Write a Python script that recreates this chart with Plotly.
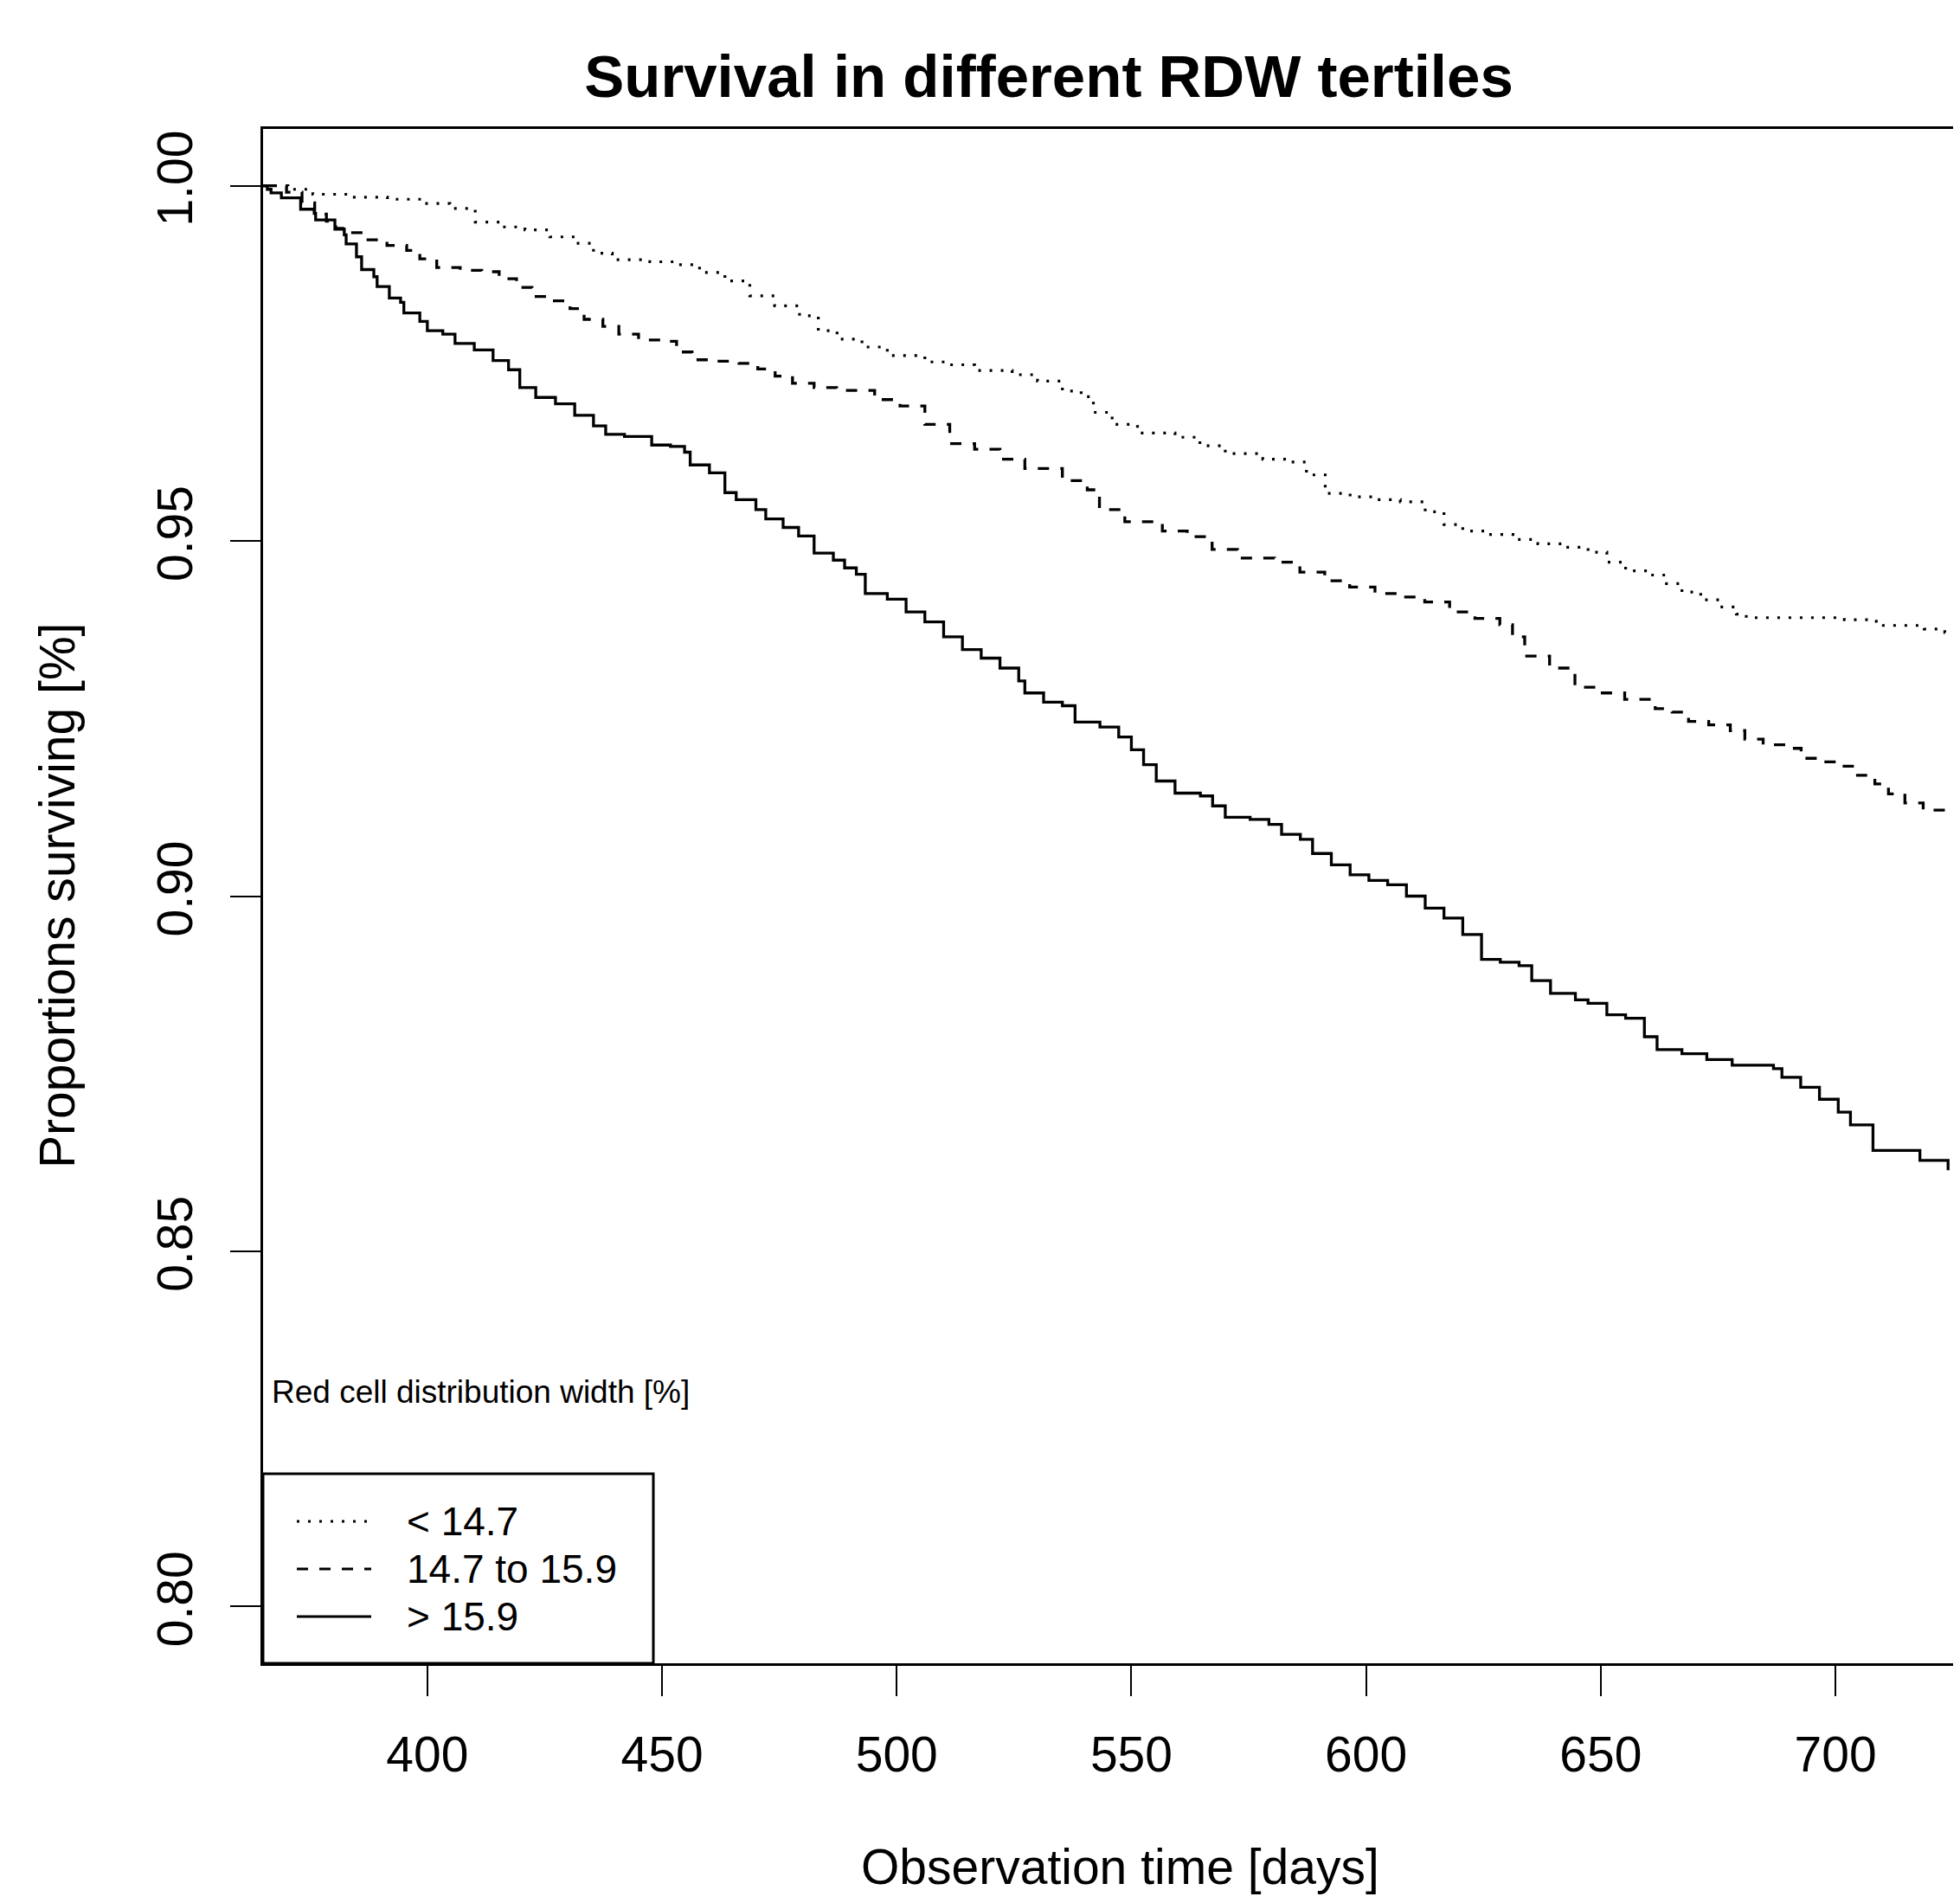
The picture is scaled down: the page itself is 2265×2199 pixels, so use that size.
import plotly.graph_objects as go

# ---------------- data ----------------
series_names = ["< 14.7", "14.7 to 15.9", "> 15.9"]

days_low = [365, 370.3, 375.6, 383.6, 391.5, 399.5, 404.8, 410.2, 415.5, 420.8, 426.1, 431.4,
            435.4, 439.4, 447.4, 452.7, 458.0, 463.4, 468.7, 474.0, 479.3, 483.3, 487.3, 492.6,
            498.0, 506.0, 511.3, 516.6, 524.6, 530.0, 535.3, 539.3, 541.9, 545.9, 551.3, 559.3,
            564.6, 570.0, 578.0, 583.3, 587.3, 591.3, 596.6, 601.9, 607.3, 612.6, 616.6, 620.6,
            626.0, 631.3, 636.6, 641.9, 647.3, 651.3, 655.3, 660.3, 664.0, 667.3, 671.3, 675.2,
            678.9, 681.0, 701.9, 706.9, 708.7, 718.9, 723.3, 725.9]
surv_low = [1.0, 0.9995, 0.9988, 0.9984, 0.9981, 0.9975, 0.9968, 0.9949, 0.9942, 0.9938, 0.9928, 0.9919,
            0.9905, 0.9896, 0.9893, 0.9889, 0.9878, 0.9866, 0.9845, 0.9831, 0.9817, 0.9796, 0.9784, 0.9773,
            0.9761, 0.9752, 0.9748, 0.9740, 0.9734, 0.9725, 0.9711, 0.9703, 0.9681, 0.9664, 0.9652, 0.9646,
            0.9634, 0.9623, 0.9615, 0.9611, 0.9593, 0.9567, 0.9562, 0.9558, 0.9555, 0.9541, 0.9523, 0.9514,
            0.9509, 0.9502, 0.9496, 0.9491, 0.9484, 0.9470, 0.9458, 0.9452, 0.9440, 0.9428, 0.9417, 0.9407,
            0.9397, 0.9392, 0.9389, 0.9387, 0.9381, 0.9376, 0.9371, 0.9369]

days_mid = [365, 370.0, 373.3, 376.0, 378.5, 380.5, 382.7, 386.9, 391.4, 395.6, 398.4, 402.0, 407.0,
            411.6, 415.3, 419.0,
            422.3, 426.7, 430.4, 433.4, 437.4, 440.8, 445.0, 449.8, 453.1, 456.4, 461.0, 466.4,
            470.4, 474.1, 477.8, 482.4, 487.2, 495.3, 500.7, 506.0, 511.3, 516.6, 522.0, 527.3,
            535.3, 540.6, 543.2, 548.6, 556.6, 561.9, 567.2, 572.6, 580.5, 585.9, 591.2, 596.5,
            601.9, 607.2, 612.5, 617.8, 623.2, 628.5, 631.2, 633.8, 639.1, 644.5, 649.8, 655.1,
            661.6, 665.2, 668.7, 673.0, 677.6, 680.7, 684.6, 689.9, 692.7, 697.5, 701.2, 704.7,
            708.4, 711.3, 714.8, 718.7, 723.7]
surv_mid = [1.0, 0.9991, 0.9976, 0.9960, 0.9950, 0.9940, 0.9934, 0.9924, 0.9916, 0.9909, 0.9897, 0.9885, 0.9881,
            0.9879, 0.9869, 0.9857,
            0.9844, 0.9838, 0.9827, 0.9812, 0.9802, 0.9791, 0.9783, 0.9781, 0.9766, 0.9755, 0.9753, 0.9750,
            0.9742, 0.9732, 0.9722, 0.9716, 0.9712, 0.9699, 0.9690, 0.9664, 0.9637, 0.9629, 0.9615, 0.9602,
            0.9585, 0.9572, 0.9544, 0.9527, 0.9514, 0.9506, 0.9488, 0.9476, 0.9470, 0.9456, 0.9444, 0.9435,
            0.9426, 0.9421, 0.9414, 0.9400, 0.9391, 0.9382, 0.9365, 0.9338, 0.9321, 0.9294, 0.9286, 0.9277,
            0.9264, 0.9259, 0.9246, 0.9241, 0.9233, 0.9221, 0.9213, 0.9208, 0.9194, 0.9189, 0.9183, 0.9170,
            0.9158, 0.9144, 0.9131, 0.9121, 0.9115]

days_high = [365, 365.9, 366.7, 368.9, 373.0, 375.9, 376.2, 380.3, 382.3, 382.7, 384.9, 386.0, 388.6,
             389.3, 391.9, 394.3, 395.0, 398.4, 400.0, 403.3, 405.9, 410.0, 414.0, 417.3, 419.7,
             423.1, 427.3, 431.4, 435.4, 438.0, 442.0, 447.8, 451.8, 454.8, 456.0, 460.1, 463.4,
             465.8, 470.0, 472.1, 475.8, 479.1, 482.4, 486.5, 488.9, 491.4, 493.3, 498.0, 502.0,
             506.0, 510.0, 514.0, 518.0, 522.0, 526.0, 527.3, 531.3, 535.3, 538.0, 543.3, 547.3,
             550.0, 552.6, 555.3, 559.3, 564.7, 567.3, 570.0, 575.3, 579.3, 582.0, 586.0, 588.6,
             592.6, 596.6, 600.6, 604.6, 608.6, 612.6, 616.6, 620.6, 624.6, 628.6, 632.6, 635.3,
             639.3, 644.6, 647.3, 651.3, 655.3, 659.3, 662.0, 667.3, 672.6, 678.0, 686.8, 688.6,
             692.6, 696.6, 700.6, 703.2, 708.0, 718.0, 724.0]
surv_high = [1.0, 0.9995, 0.9990, 0.9983, 0.9967, 0.9961, 0.9952, 0.9939, 0.9931, 0.9918, 0.9900, 0.9882, 0.9872,
             0.9858, 0.9842, 0.9836, 0.9821, 0.9809, 0.9796, 0.9791, 0.9778, 0.9769, 0.9754, 0.9741, 0.9716,
             0.9702, 0.9693, 0.9677, 0.9662, 0.9650, 0.9647, 0.9635, 0.9633, 0.9625, 0.9607, 0.9596, 0.9568,
             0.9558, 0.9544, 0.9531, 0.9519, 0.9507, 0.9483, 0.9473, 0.9462, 0.9453, 0.9426, 0.9418, 0.9400,
             0.9386, 0.9365, 0.9347, 0.9335, 0.9321, 0.9303, 0.9286, 0.9273, 0.9268, 0.9245, 0.9238, 0.9224,
             0.9206, 0.9185, 0.9162, 0.9145, 0.9141, 0.9127, 0.9111, 0.9108, 0.9101, 0.9087, 0.9080, 0.9060,
             0.9044, 0.9030, 0.9022, 0.9016, 0.9000, 0.8983, 0.8969, 0.8946, 0.8911, 0.8907, 0.8902, 0.8881,
             0.8863, 0.8854, 0.8849, 0.8833, 0.8828, 0.8802, 0.8784, 0.8778, 0.8770, 0.8762, 0.8757, 0.8745,
             0.8731, 0.8714, 0.8696, 0.8678, 0.8642, 0.8628, 0.8614]

x_ticks = [400, 450, 500, 550, 600, 650, 700]
y_ticks = [0.80, 0.85, 0.90, 0.95, 1.00]
y_tick_labels = ["0.80", "0.85", "0.90", "0.95", "1.00"]

# ---------------- figure geometry (page pixel coordinates) ----------------
OFF = 8                                   # default page body margin
W, H = 2265 - 2 * OFF, 2199 - OFF         # figure reaches the bottom of the page
RL, RT, RB = 304, 149, 1922               # plot area edges on the page
RR = OFF + W                              # plot runs to the right edge of the figure
PL, PR, PT, PB = RL - OFF, RR - OFF, RT - OFF, RB - OFF
X_PX_PER_DAY = 5.4257
X_RANGE = [365, 700 + (RR - 2121) / X_PX_PER_DAY]
FONT = "Liberation Sans, Arial, Helvetica, sans-serif"


def px_x(px):
    return (px - RL) / (RR - RL)


def px_y(py):
    return (RB - py) / (RB - RT)


fig = go.Figure()
styles = ["3px,10px", "13px,13px", "solid"]
widths = [3.2, 3.3, 3.3]
for name, xs, ys, dash, lw in zip(series_names, [days_low, days_mid, days_high],
                                  [surv_low, surv_mid, surv_high], styles, widths):
    fig.add_trace(go.Scatter(x=xs, y=ys, mode="lines", name=name, showlegend=False,
                             line=dict(color="black", width=lw, dash=dash, shape="hv")))

# manual legend (R style)
shapes = [dict(type="rect", xref="paper", yref="paper", x0=0, x1=px_x(755), y0=0, y1=px_y(1703),
               line=dict(color="black", width=3), fillcolor="rgba(0,0,0,0)", layer="above")]
annotations = []
row_y = [1758, 1813, 1868]
for name, dash, ry in zip(series_names, styles, row_y):
    shapes.append(dict(type="line", xref="paper", yref="paper", x0=px_x(343), x1=px_x(429),
                       y0=px_y(ry), y1=px_y(ry), line=dict(color="black", width=3, dash=dash)))
    annotations.append(dict(text=name, xref="paper", yref="paper", x=px_x(468), y=px_y(ry),
                            xanchor="left", yanchor="middle", showarrow=False,
                            font=dict(family=FONT, size=46, color="black")))
annotations.append(dict(text="Red cell distribution width [%]", xref="paper", yref="paper",
                        x=px_x(312), y=px_y(1608), xanchor="left", yanchor="middle", showarrow=False,
                        font=dict(family=FONT, size=37, color="black")))
# axis titles
annotations.append(dict(text="Observation time [days]", xref="paper", yref="paper",
                        x=px_x(1294), y=px_y(2157), xanchor="center", yanchor="middle", showarrow=False,
                        font=dict(family=FONT, size=57, color="black")))
annotations.append(dict(text="Proportions surviving [%]", xref="paper", yref="paper", textangle=-90,
                        x=px_x(66), y=px_y(1035), xanchor="center", yanchor="middle", showarrow=False,
                        font=dict(family=FONT, size=57, color="black")))

fig.update_layout(
    width=W, height=H,
    margin=dict(l=PL, r=W - PR, t=PT, b=H - PB, pad=0),
    paper_bgcolor="white", plot_bgcolor="white",
    font=dict(family=FONT, color="black", size=57),
    title=dict(text="<b>Survival in different RDW tertiles</b>", xref="container", yref="container",
               x=(1212 - OFF) / W, y=1 - (88 - OFF) / H, xanchor="center", yanchor="middle",
               font=dict(family=FONT, size=69, color="black")),
    shapes=shapes, annotations=annotations,
    showlegend=False,
)
fig.update_xaxes(range=X_RANGE, showgrid=False, zeroline=False,
                 showline=True, mirror=True, linecolor="black", linewidth=3,
                 tickmode="array", tickvals=x_ticks, ticktext=[str(v) for v in x_ticks],
                 ticks="outside", ticklen=35, tickwidth=2, tickcolor="black",
                 tickfont=dict(family=FONT, size=57), ticklabelstandoff=19,
                 automargin=False)
fig.update_yaxes(range=[0.792, 1.008], showgrid=False, zeroline=False,
                 showline=True, mirror=False, linecolor="black", linewidth=3,
                 tickmode="array", tickvals=y_ticks, ticktext=y_tick_labels, tickangle=-90,
                 ticks="outside", ticklen=35, tickwidth=2, tickcolor="black",
                 tickfont=dict(family=FONT, size=57), ticklabelstandoff=21,
                 automargin=False)

fig.write_html("out.html")
